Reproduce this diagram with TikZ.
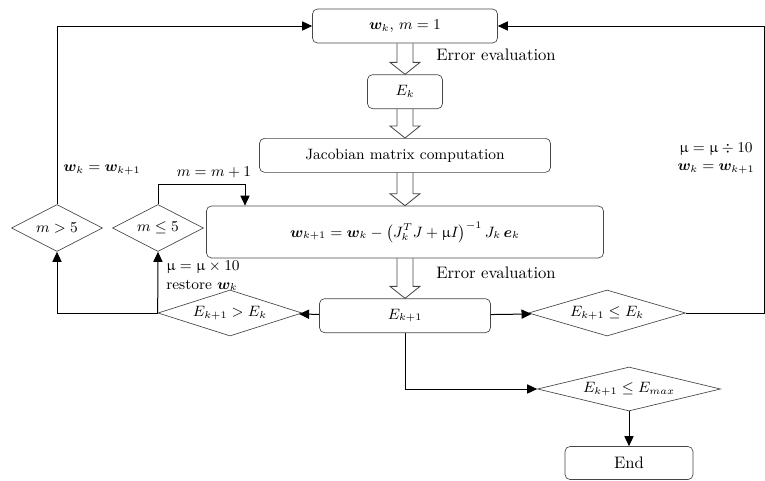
\documentclass[tikz,border=0pt]{standalone}
\usepackage{amsmath}
\usepackage{bm}
\usepackage{upgreek}
\usepackage{xcolor}
\usepackage{tikz}
\usetikzlibrary{shapes.geometric, arrows.meta, positioning, calc}
\definecolor{corBorda}{RGB}{70, 70, 70}

% hollow (open) block arrow between two stacked boxes
\newcommand{\oca}[2]{%
  \draw[hollow] ($(#1.south)+(-8,0)$) -- ($(#2.north)+(-8,-12)$) -- ++(-7,0) -- (#2.north)
    -- ++(15,-12) -- ++(-7,0) -- ($(#1.south)+(8,0)$);}

\begin{document}
\begin{tikzpicture}[
    x=0.6pt, y=-0.6pt,
    box/.style={draw=corBorda, rounded corners=3pt, minimum height=20.4pt, inner sep=2pt,
                font=\small},
    dec/.style={draw=corBorda, diamond, inner sep=0pt, font=\small},
    hollow/.style={draw=corBorda, line width=0.5pt, line join=miter},
    arr/.style={line width=0.6pt, -{Triangle[length=6pt, width=5.5pt]}},
    lbl/.style={font=\small, inner sep=0pt},
    node distance=18.6pt
]
\useasboundingbox (0,0) rectangle (765,480);

% main column
\node[box, minimum width=111pt] (start) at (405,26) {$\bm{w}_k$, $m = 1$};
\node[box, minimum width=45pt, below=18.6pt of start] (ek) {$E_k$};
\node[box, minimum width=174.6pt, below=17.4pt of ek] (jac) {Jacobian matrix computation};
\node[box, minimum width=238.2pt, minimum height=31.2pt, below=19.8pt of jac] (upd)
    {$\bm{w}_{k+1} = \bm{w}_k - \left(J_k^T J + \upmu I\right)^{-1} J_k\, \bm{e}_k$};
\node[box, minimum width=102.6pt, below=24pt of upd] (next) {$E_{k+1}$};

% decisions
\node[dec, minimum width=94.2pt, minimum height=27.6pt, aspect=3.4] (le) at (607,313) {$E_{k+1} \le E_k$};
\node[dec, minimum width=86.4pt, minimum height=27.6pt, aspect=3.1] (gt) at (230,313) {$E_{k+1} > E_k$};
\node[dec, minimum width=54.6pt, minimum height=28.2pt, aspect=1.9] (mgt) at (57,228) {$m > 5$};
\node[dec, minimum width=54.6pt, minimum height=28.2pt, aspect=1.9] (mle) at (158,228) {$m \le 5$};
\node[dec, minimum width=109.8pt, minimum height=26.4pt, aspect=4.15] (emax) at (629,389) {$E_{k+1} \le E_{max}$};
\node[box, minimum width=76.8pt, minimum height=19.8pt, font=\normalsize] (end) at (629,463) {End};

% labels
\node[lbl, anchor=west, font=\normalsize] (ev1) at (436,55) {Error evaluation};
\node[lbl, anchor=west, font=\normalsize] (ev2) at (436,273) {Error evaluation};
\node[lbl, align=center] (dn) at (716,158) {$\upmu = \upmu \div 10$\\$\bm{w}_k = \bm{w}_{k+1}$};
\node[lbl, align=left, anchor=west] (up) at (166,276) {$\upmu = \upmu \times 10$\\restore $\bm{w}_k$};
\node[lbl] (wk) at (102,170) {$\bm{w}_k = \bm{w}_{k+1}$};
\node[lbl] (minc) at (214,172) {$m = m + 1$};

\coordinate (rloop) at (764,313);
\coordinate (mloop) at (245,184);

% block arrows
\oca{start}{ek}
\oca{ek}{jac}
\oca{jac}{upd}
\oca{upd}{next}

% connectors
\draw[arr] (next) -- (le);
\draw[arr] (le.east) -- (rloop) |- (start.east);
\draw[arr] (next) -- (gt);
\draw[arr] (gt.west) -| (mgt.south);
\draw[arr] (gt.west) -- (mle.south);
\draw[arr] (mgt.north) |- (start.west);
\draw[arr] (mle.north) |- (mloop) -- (mloop |- upd.north);
\draw[arr] (next.south) |- (emax.west);
\draw[arr] (emax.south) -- (end.north);
\end{tikzpicture}
\end{document}
